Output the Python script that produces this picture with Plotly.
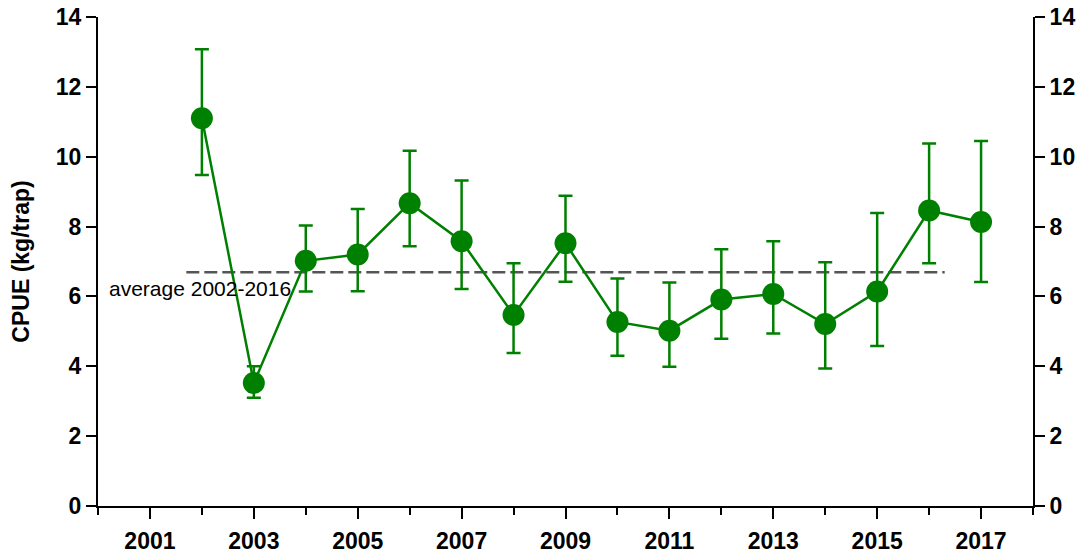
import plotly.graph_objects as go

years = [2002, 2003, 2004, 2005, 2006, 2007, 2008, 2009, 2010, 2011, 2012, 2013, 2014, 2015, 2016, 2017]
cpue = [11.1, 3.52, 7.02, 7.2, 8.67, 7.58, 5.47, 7.52, 5.27, 5.02, 5.91, 6.07, 5.21, 6.14, 8.46, 8.13]
upper = [13.08, 4.0, 8.03, 8.5, 10.17, 9.32, 6.95, 8.88, 6.51, 6.4, 7.35, 7.58, 6.98, 8.39, 10.38, 10.45]
lower = [9.48, 3.1, 6.14, 6.15, 7.44, 6.21, 4.38, 6.42, 4.3, 3.99, 4.79, 4.94, 3.94, 4.58, 6.95, 6.41]

avg_value = 6.69
avg_x = [2001.7, 2016.3]
avg_label = "average 2002-2016"

major_years = list(range(2001, 2018, 2))
y_ticks = list(range(0, 15, 2))

green = "#008000"

err_plus = [u - v for u, v in zip(upper, cpue)]
err_minus = [v - l for v, l in zip(cpue, lower)]

fig = go.Figure()

fig.add_trace(go.Scatter(
    x=avg_x, y=[avg_value, avg_value], mode="lines",
    line=dict(color="#555555", width=2.5, dash="13px,5px"),
    showlegend=False, hoverinfo="skip"))

fig.add_trace(go.Scatter(
    x=years, y=cpue, mode="lines+markers",
    line=dict(color=green, width=2.5),
    marker=dict(color=green, size=22),
    error_y=dict(type="data", symmetric=False, array=err_plus, arrayminus=err_minus,
                 color=green, thickness=2.5, width=7),
    showlegend=False))

# invisible trace for right axis
fig.add_trace(go.Scatter(x=[years[0]], y=[cpue[0]], yaxis="y2", mode="markers",
                         marker=dict(opacity=0), showlegend=False, hoverinfo="skip"))

fig.add_annotation(x=2000.17, y=6.24, xref="x", yref="y", text=avg_label,
                   showarrow=False, xanchor="left", yanchor="middle",
                   font=dict(family="Arial, Liberation Sans", size=21, color="#000000"))

tickfont = dict(family="Arial, Liberation Sans", size=23, color="#000000", weight="bold")

fig.update_layout(
    width=1080, height=548,
    margin=dict(l=90, r=55, t=9, b=50),
    paper_bgcolor="white", plot_bgcolor="white",
    xaxis=dict(range=[2000, 2018], tickvals=major_years, ticktext=[str(y) for y in major_years],
               ticks="outside", ticklen=11, tickwidth=2, tickcolor="black", automargin=False,
               showline=True, linecolor="black", linewidth=2, showgrid=False, zeroline=False,
               tickfont=tickfont, ticklabelstandoff=2, ticklabeloverflow="allow",
               minor=dict(tickvals=list(range(2000, 2019)), ticks="outside", ticklen=7,
                          tickwidth=2, tickcolor="black", showgrid=False)),
    yaxis=dict(range=[0, 14], tickvals=y_ticks, ticks="outside", ticklen=10, tickwidth=2,
               tickcolor="black", showline=True, linecolor="black", linewidth=2, automargin=False,
               showgrid=False, zeroline=False, tickfont=tickfont, ticklabeloverflow="allow",
               title=dict(text="CPUE (kg/trap)", font=dict(family="Arial, Liberation Sans", size=23,
                                                          color="#000000", weight="bold"),
                          standoff=28)),
    yaxis2=dict(range=[0, 14], tickvals=y_ticks, overlaying="y", side="right", anchor="x",
                ticks="outside", ticklen=10, tickwidth=2, tickcolor="black", showline=True,
                automargin=False, ticklabeloverflow="allow",
                linecolor="black", linewidth=2, showgrid=False, zeroline=False, tickfont=tickfont),
)

fig.write_html("out.html")
